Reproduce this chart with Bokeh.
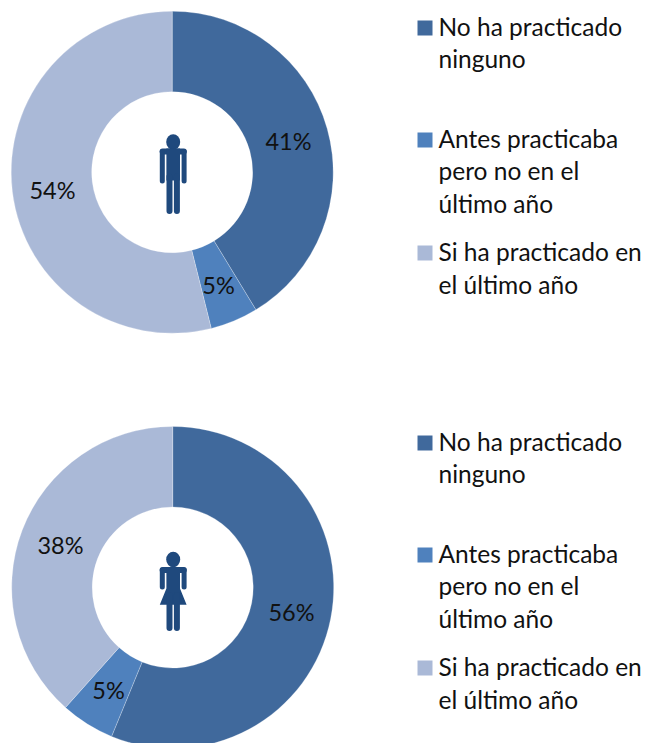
from math import pi
from bokeh.plotting import figure
from bokeh.embed import file_html
from bokeh.resources import INLINE
from bokeh.core.properties import value

categories = ["No ha practicado ninguno", "Antes practicaba pero no en el último año", "Si ha practicado en el último año"]
legend_lines = [["No ha practicado", "ninguno"], ["Antes practicaba", "pero no en el", "último año"], ["Si ha practicado en", "el último año"]]
men_values = [41.3, 4.8, 53.9]
women_values = [56.2, 5.4, 38.4]
men_labels = ["41%", "5%", "54%"]
women_labels = ["56%", "5%", "38%"]
colors = ["#40699C", "#4F81BD", "#AAB9D7"]
icon_color = "#1F497D"
FONT = "Lato"

W, H = 648, 743
p = figure(width=W, height=H, x_range=(0, W), y_range=(0, H), output_backend="svg",
           toolbar_location=None, min_border=0)
p.axis.visible = False
p.grid.visible = False
p.outline_line_color = None
p.background_fill_color = "white"

def Y(py):
    return 743 - py

def donut(cx, cy, vals, labels, label_pos):
    start = pi / 2
    for v, c, lab, (lx, ly) in zip(vals, colors, labels, label_pos):
        end = start - v / 100 * 2 * pi
        p.annular_wedge([cx], [Y(cy)], inner_radius=80.5, outer_radius=161, start_angle=end, end_angle=start,
                        fill_color=c, line_color="white", line_alpha=0.35, line_width=0.75)
        p.text([lx], [Y(ly)], text=[lab], text_font=value(FONT), text_font_size="23.5px", text_color="#111111",
               text_align="center", text_baseline="middle")
        start = end

def limb(xs, ys, w):
    p.line(xs, [Y(y) for y in ys], line_width=w, line_color=icon_color, line_cap="round")

def person(cx, head_y, top, arm_end, leg_end, female):
    p.ellipse([cx], [Y(head_y)], width=14, height=15.5, fill_color=icon_color, line_color=None)
    limb([cx - 10.6, cx + 10.6], [top + 3, top + 3], 6)
    limb([cx - 10.9, cx - 10.9], [top + 3, arm_end - 2.5], 5)
    limb([cx + 10.9, cx + 10.9], [top + 3, arm_end - 2.5], 5)
    if female:
        xs = [cx - 6.8, cx + 6.8, cx + 6.8, cx + 13.4, cx - 13.4, cx - 6.8]
        ys = [top, top, top + 21.5, top + 37.8, top + 37.8, top + 21.5]
    else:
        xs = [cx - 6.8, cx + 6.8, cx + 6.8, cx - 6.8]
        ys = [top, top, top + 32, top + 32]
    p.patch(xs, [Y(y) for y in ys], fill_color=icon_color, line_color=None)
    limb([cx - 3.7, cx - 3.7], [top + 28, leg_end - 3], 6)
    limb([cx + 3.7, cx + 3.7], [top + 28, leg_end - 3], 6)

def legend(offset):
    sq_y = [27.5, 139.5, 252.5]
    line_y = [[26, 58], [138, 170, 203], [251, 284]]
    for c, sy, lines, ys in zip(colors, sq_y, legend_lines, line_y):
        p.rect([424.5], [Y(sy + offset)], width=15, height=15, fill_color=c, line_color=None)
        for t, y in zip(lines, ys):
            p.text([438], [Y(y + offset)], text=[t], text_font=value(FONT), text_font_size="24.5px",
                   text_color="#111111", text_align="left", text_baseline="middle")

donut(171.7, 171.7, men_values, men_labels, [(288, 140), (218, 284), (52, 189)])
donut(172.2, 587, women_values, women_labels, [(291, 611), (108, 689), (60, 544)])
person(172.7, 141.5, 148, 183, 213.5, False)
person(172.7, 559, 566.5, 589, 630.5, True)
legend(0)
legend(415)

open("out.html", "w").write(file_html(p, INLINE))
